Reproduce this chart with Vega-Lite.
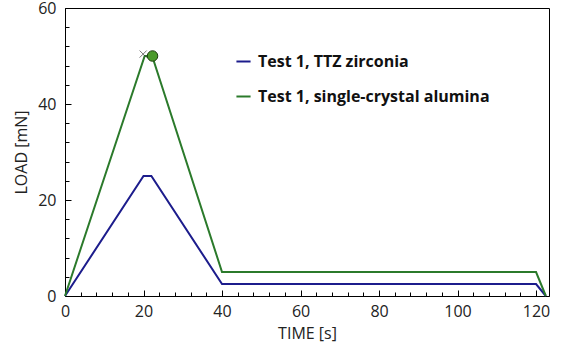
{
  "$schema": "https://vega.github.io/schema/vega-lite/v6.json",
  "autosize": "none",
  "width": 484,
  "height": 288,
  "padding": {"left": 65, "top": 8, "right": 12, "bottom": 67},
  "background": "white",
  "config": {
    "view": {"stroke": "black", "strokeWidth": 1},
    "axis": {
      "grid": false,
      "zindex": 1,
      "ticks": true,
      "domainColor": "black",
      "tickColor": "black",
      "tickWidth": 1,
      "labelColor": "#222",
      "titleColor": "#222",
      "labelFont": "Open Sans",
      "titleFont": "Open Sans",
      "labelFontSize": 16,
      "titleFontSize": 16,
      "titleFontWeight": "normal"
    }
  },
  "resolve": {"axis": {"x": "independent", "y": "independent"}},
  "datasets": {
    "lines": [
      {"series": "Test 1, TTZ zirconia", "t": 0, "load": 0},
      {"series": "Test 1, TTZ zirconia", "t": 20, "load": 25},
      {"series": "Test 1, TTZ zirconia", "t": 22, "load": 25},
      {"series": "Test 1, TTZ zirconia", "t": 40, "load": 2.5},
      {"series": "Test 1, TTZ zirconia", "t": 120, "load": 2.5},
      {"series": "Test 1, TTZ zirconia", "t": 122.5, "load": 0},
      {"series": "Test 1, single-crystal alumina", "t": 0, "load": 0},
      {"series": "Test 1, single-crystal alumina", "t": 20.3, "load": 50},
      {"series": "Test 1, single-crystal alumina", "t": 22.2, "load": 50},
      {"series": "Test 1, single-crystal alumina", "t": 40, "load": 5},
      {"series": "Test 1, single-crystal alumina", "t": 120, "load": 5},
      {"series": "Test 1, single-crystal alumina", "t": 122.5, "load": 0}
    ],
    "peak": [{"t": 22.3, "load": 50}],
    "cross": [{"t": 19.9, "load": 50.4}]
  },
  "layer": [
    {
      "data": {"name": "lines"},
      "mark": {"type": "line", "strokeWidth": 2},
      "encoding": {
        "x": {
          "field": "t", "type": "quantitative",
          "scale": {"domain": [0, 123.3], "nice": false, "zero": false},
          "axis": {
            "title": "TIME [s]",
            "orient": "bottom",
            "values": [0,20,40,60,80,100,120],
            "tickSize": -6,
            "labelPadding": 13,
            "titlePadding": 6,
            "labelFlush": false,
            "labelOverlap": false
          }
        },
        "y": {
          "field": "load", "type": "quantitative",
          "scale": {"domain": [0, 60], "nice": false},
          "axis": {
            "title": "LOAD [mN]",
            "orient": "left",
            "values": [0,20,40,60],
            "tickSize": -6,
            "labelPadding": 15,
            "titlePadding": 8,
            "labelFlush": false,
            "labelOverlap": false
          }
        },
        "color": {
          "field": "series", "type": "nominal",
          "scale": {"domain": ["Test 1, TTZ zirconia", "Test 1, single-crystal alumina"], "range": ["#1c1c8c", "#2b7a2b"]},
          "legend": {
            "title": null,
            "orient": "none",
            "legendX": 170,
            "legendY": 45,
            "symbolType": "stroke",
            "symbolSize": 200,
            "symbolStrokeWidth": 2,
            "rowPadding": 18,
            "labelFont": "Open Sans",
            "labelFontSize": 16,
            "labelFontWeight": "bold",
            "labelColor": "#111",
            "labelLimit": 400,
            "labelOffset": 6
          }
        }
      }
    },
    {
      "data": {"name": "cross"},
      "mark": {"type": "point", "shape": "M-1,-1L1,1M-1,1L1,-1", "size": 50, "filled": false, "stroke": "#444", "strokeWidth": 1},
      "encoding": {
        "x": {"field": "t", "type": "quantitative",
          "axis": {"orient": "bottom", "title": null, "labels": false, "domain": false, "tickSize": -4,
            "values": [4,8,12,16,24,28,32,36,44,48,52,56,64,68,72,76,84,88,92,96,104,108,112,116]}},
        "y": {"field": "load", "type": "quantitative",
          "axis": {"orient": "left", "title": null, "labels": false, "domain": false, "tickSize": -4,
            "values": [4,8,12,16,24,28,32,36,44,48,52,56]}}
      }
    },
    {
      "data": {"name": "peak"},
      "mark": {"type": "point", "shape": "circle", "size": 110, "filled": true, "fill": "#4a9a2a", "stroke": "#1f3f10", "strokeWidth": 1, "opacity": 1},
      "encoding": {
        "x": {"field": "t", "type": "quantitative", "axis": null},
        "y": {"field": "load", "type": "quantitative", "axis": null}
      }
    }
  ]
}
